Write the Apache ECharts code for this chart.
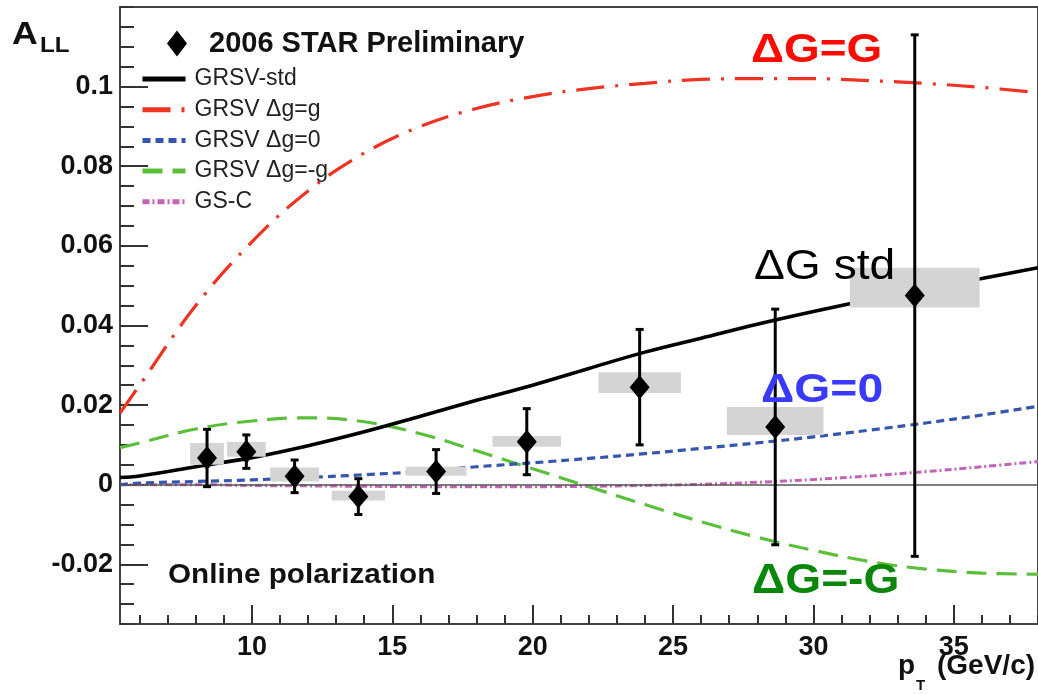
<!DOCTYPE html>
<html>
<head>
<meta charset="utf-8">
<script src="https://cdn.jsdelivr.net/npm/echarts@6/dist/echarts.min.js"></script>
<style>
  html, body { margin: 0; padding: 0; background: #fff; }
  #chart { width: 1038px; height: 694px; }
</style>
</head>
<body>
<div id="chart"></div>
<script>
// ---- Axis ranges and tick labels ----
const xMin = 5.3, xMax = 38;
const yMin = -0.035, yMax = 0.12;
const xMinorTicks = [6,7,8,9,10,11,12,13,14,15,16,17,18,19,20,21,22,23,24,25,26,27,28,29,30,31,32,33,34,35,36,37,38];
const xMajorTicks = [10, 15, 20, 25, 30, 35];
const yTickLabels = ['-0.02', '0', '0.02', '0.04', '0.06', '0.08', '0.1'];

// ---- Theory curves: A_LL vs pT ----
const curveX   = [5.3, 6, 8, 10, 12, 14, 16, 18, 20, 22, 24, 26, 28, 30, 32, 34, 36, 38];
const grsvStd  = [0.0018, 0.0022, 0.0045, 0.0068, 0.0098, 0.0133, 0.0172, 0.0212, 0.0250, 0.0292, 0.0333, 0.0368, 0.0403, 0.0435, 0.0465, 0.0493, 0.0518, 0.0545];
const grsvMax  = [0.0180, 0.0250, 0.0450, 0.0610, 0.0738, 0.0833, 0.0900, 0.0945, 0.0975, 0.0995, 0.1008, 0.1018, 0.1020, 0.1020, 0.1015, 0.1008, 0.0998, 0.0985];
const grsvZero = [0.0000, 0.0004, 0.0008, 0.0012, 0.0018, 0.0025, 0.0033, 0.0045, 0.0055, 0.0066, 0.0078, 0.0091, 0.0105, 0.0120, 0.0137, 0.0155, 0.0175, 0.0197];
const grsvMin  = [0.0093, 0.0105, 0.0140, 0.0160, 0.0168, 0.0158, 0.0128, 0.0085, 0.0040, -0.0005, -0.0050, -0.0093, -0.0132, -0.0165, -0.0193, -0.0212, -0.0222, -0.0225];
const gsC      = [0.0000, 0.0000, 0.0000, -0.0002, -0.0003, -0.0004, -0.0005, -0.0005, -0.0005, -0.0004, -0.0002, 0.0001, 0.0006, 0.0013, 0.0022, 0.0033, 0.0045, 0.0058];

// ---- 2006 STAR data points ----
const ptX     = [8.40, 9.80, 11.52, 13.79, 16.56, 19.79, 23.81, 28.64, 33.61];
const ptY     = [0.0067, 0.0083, 0.0021, -0.0030, 0.0033, 0.0108, 0.0245, 0.0145, 0.0475];
const statErr = [0.0072, 0.0042, 0.0041, 0.0045, 0.0055, 0.0083, 0.0145, 0.0296, 0.0655];
// systematic bands
const sysHalfW = [0.60, 0.69, 0.87, 0.95, 1.08, 1.22, 1.47, 1.72, 2.31];
const sysLo    = [0.0050, 0.0070, 0.0008, -0.0040, 0.00225, 0.0095, 0.0230, 0.0125, 0.0445];
const sysHi    = [0.0105, 0.0107, 0.0043, -0.0015, 0.0045, 0.01225, 0.02825, 0.0195, 0.0545];

const FONT = '"Liberation Sans", Arial, Helvetica, sans-serif';

function pairs(xs, ys) { return xs.map((x, i) => [x, ys[i]]); }

const pointData = pairs(ptX, ptY);
const errData = ptX.map((x, i) => [x, ptY[i] - statErr[i], ptY[i] + statErr[i]]);
const boxData = ptX.map((x, i) => [x - sysHalfW[i], x + sysHalfW[i], sysLo[i], sysHi[i]]);

const chart = echarts.init(document.getElementById('chart'), null, { renderer: 'canvas' });

function curve(name, ys, color, width, dash, z) {
  return {
    name: name, type: 'line', data: pairs(curveX, ys), smooth: 0.4,
    symbol: 'none', silent: true, z: z,
    lineStyle: { color: color, width: width, type: dash, cap: 'butt' },
    itemStyle: { color: color }
  };
}

// stretched text label drawn at a fixed spot
function label(text, x, y, font, fill, sx) {
  return { type: 'text', x: x, y: y, scaleX: sx || 1, z: 20, style: { text: text, font: font, fill: fill } };
}

const yMajorVals = yTickLabels.map(Number);

const option = {
  animation: false,
  backgroundColor: '#ffffff',
  grid: {
    left: 120, top: 7, right: -3, bottom: 70,
    show: true, borderColor: '#444', borderWidth: 2, backgroundColor: 'transparent'
  },
  xAxis: [
    {
      type: 'value', min: xMin, max: xMax, position: 'bottom', offset: 0,
      axisLine: { show: true, onZero: false, lineStyle: { color: '#444', width: 2 } },
      axisTick: { show: true, inside: true, length: 9, customValues: xMinorTicks, lineStyle: { color: '#333', width: 2 } },
      axisLabel: { customValues: xMajorTicks, margin: 10, fontFamily: FONT, fontSize: 27, fontWeight: 'bold', color: '#111' },
      splitLine: { show: false }
    },
    {
      type: 'value', min: xMin, max: xMax, position: 'bottom', offset: 0,
      axisLine: { show: false, onZero: false },
      axisTick: { show: true, inside: true, length: 19, customValues: xMajorTicks, lineStyle: { color: '#333', width: 2 } },
      axisLabel: { show: false },
      splitLine: { show: false }
    }
  ],
  yAxis: [
    {
      type: 'value', min: yMin, max: yMax, interval: 0.005, position: 'left', offset: 0,
      axisLine: { show: true, onZero: false, lineStyle: { color: '#444', width: 2 } },
      axisTick: { show: true, inside: true, length: 14, lineStyle: { color: '#333', width: 2 } },
      axisLabel: {
        customValues: yMajorVals, margin: 7, fontFamily: FONT, fontSize: 27, fontWeight: 'bold', color: '#111',
        formatter: function (v) {
          const i = yMajorVals.findIndex(t => Math.abs(t - v) < 1e-9);
          return i >= 0 ? yTickLabels[i] : '';
        }
      },
      splitLine: { show: false }
    },
    {
      type: 'value', min: yMin, max: yMax, position: 'left', offset: 0,
      axisLine: { show: false, onZero: false },
      axisTick: { show: true, inside: true, length: 28, customValues: yMajorVals, lineStyle: { color: '#333', width: 2 } },
      axisLabel: { show: false },
      splitLine: { show: false }
    }
  ],
  legend: [
    {
      data: ['2006 STAR Preliminary'], left: 162, top: 24,
      icon: 'diamond', itemWidth: 20, itemHeight: 26, selectedMode: false,
      textStyle: { fontFamily: FONT, fontSize: 29, fontWeight: 'bold', color: '#111', padding: [0, 0, 0, 17] }
    },
    {
      data: ['GRSV-std', 'GRSV \u0394g=g', 'GRSV \u0394g=0', 'GRSV \u0394g=-g', 'GS-C'],
      orient: 'vertical', left: 135, top: 62, itemWidth: 43, itemHeight: 12, itemGap: 6.7,
      selectedMode: false,
      itemStyle: { opacity: 0 },
      lineStyle: { width: 5 },
      textStyle: { fontFamily: FONT, fontSize: 23, color: '#222', lineHeight: 24, padding: [0, 0, 0, 4] }
    }
  ],
  graphic: [
    label('A', 12, 20, 'bold 31px ' + FONT, '#111', 1.15),
    label('LL', 40, 35, 'bold 22px ' + FONT, '#111', 1.1),
    label('p', 898, 652, 'bold 28px ' + FONT, '#111'),
    label('T', 916, 678, 'bold 15px ' + FONT, '#111'),
    label('(GeV/c)', 937, 652, 'bold 28px ' + FONT, '#111'),
    label('Online polarization', 168, 562, 'bold 27px ' + FONT, '#111', 1.1),
    label('\u0394G=G', 751, 30, 'bold 41px ' + FONT, '#ff0a00', 1.12),
    label('\u0394G std', 754, 246, '42px ' + FONT, '#000', 1.1),
    label('\u0394G=0', 761, 370, 'bold 41px ' + FONT, '#3a3aff', 1.13),
    label('\u0394G=-G', 752, 560, 'bold 42px ' + FONT, '#0a870a', 1.1)
  ],
  series: [
    Object.assign(curve('GS-C', gsC, '#c463b6', 3, [7, 3, 2, 3], 3), {
      markLine: {
        silent: true, symbol: 'none', label: { show: false },
        lineStyle: { color: '#555', width: 1.5, type: 'solid' },
        data: [{ yAxis: 0 }]
      }
    }),
    curve('GRSV \u0394g=-g', grsvMin, '#5cbf3c', 3.2, [20, 10], 4),
    curve('GRSV \u0394g=0', grsvZero, '#3556ad', 3.2, [8, 5], 4),
    curve('GRSV \u0394g=g', grsvMax, '#ee3322', 3.2, [28, 11, 3, 11], 4),
    curve('GRSV-std', grsvStd, '#000000', 3.6, 'solid', 5),
    {
      name: 'sys', type: 'custom', z: 6, silent: true,
      data: boxData,
      renderItem: function (params, api) {
        const a = api.coord([api.value(0), api.value(3)]);
        const b = api.coord([api.value(1), api.value(2)]);
        return { type: 'rect', shape: { x: a[0], y: a[1], width: b[0] - a[0], height: b[1] - a[1] }, style: { fill: '#d4d4d4' } };
      }
    },
    {
      name: 'stat', type: 'custom', z: 7, silent: true,
      data: errData,
      renderItem: function (params, api) {
        const lo = api.coord([api.value(0), api.value(1)]);
        const hi = api.coord([api.value(0), api.value(2)]);
        const cw = 4;
        const st = { stroke: '#000', lineWidth: 3 };
        return {
          type: 'group',
          children: [
            { type: 'line', shape: { x1: lo[0], y1: lo[1], x2: hi[0], y2: hi[1] }, style: st },
            { type: 'line', shape: { x1: lo[0] - cw, y1: lo[1], x2: lo[0] + cw, y2: lo[1] }, style: st },
            { type: 'line', shape: { x1: hi[0] - cw, y1: hi[1], x2: hi[0] + cw, y2: hi[1] }, style: st }
          ]
        };
      }
    },
    {
      name: '2006 STAR Preliminary', type: 'scatter', z: 8, silent: true,
      data: pointData, symbol: 'diamond', symbolSize: [20, 24],
      itemStyle: { color: '#000', opacity: 1 }
    }
  ]
};

chart.setOption(option);
</script>
</body>
</html>
